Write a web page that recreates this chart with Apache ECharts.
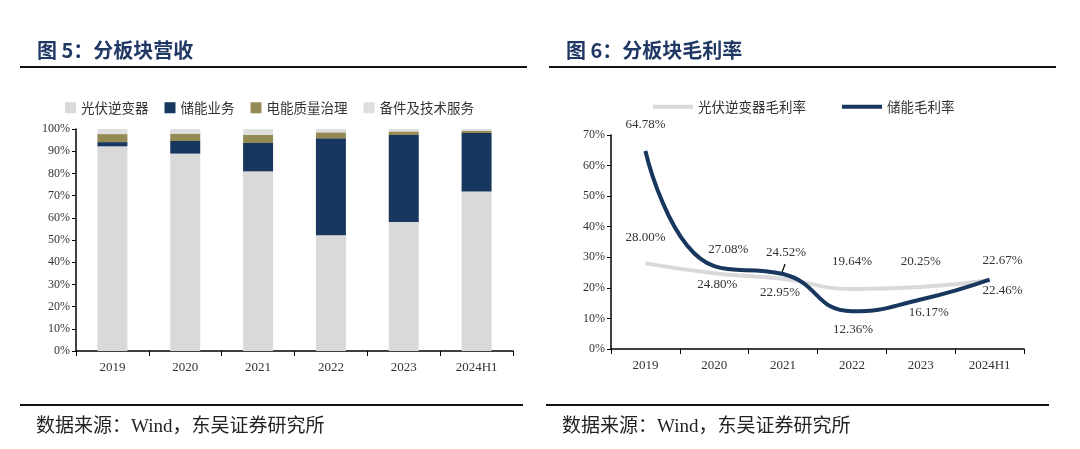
<!DOCTYPE html>
<html><head><meta charset="utf-8">
<script src="https://cdn.jsdelivr.net/npm/echarts@6/dist/echarts.min.js"></script>
<style>html,body{margin:0;padding:0;background:#fff}#c{width:1080px;height:449px}</style>
</head><body><div id="c"></div>
<script>
const categories = ['2019','2020','2021','2022','2023','2024H1'];
const pvShare = [92.2, 88.9, 80.9, 52.1, 58.1, 71.8];
const storageShare = [1.9, 5.7, 12.8, 43.7, 39.2, 26.4];
const powerQualityShare = [3.6, 3.3, 3.6, 2.7, 1.6, 1.0];
const spareShare = [2.3, 2.1, 2.7, 1.5, 1.1, 0.8];
const pvMargin = [28.00, 24.80, 22.95, 19.64, 20.25, 22.46];
const storageMargin = [64.78, 27.08, 24.52, 12.36, 16.17, 22.67];
const leftTicks = [0,10,20,30,40,50,60,70,80,90,100];
const rightTicks = [0,10,20,30,40,50,60,70];

const FONT = '"Liberation Serif","Noto Sans CJK SC",serif';
const CJK = '"Noto Sans CJK SC",sans-serif';
const navy = '#17375e';

// label offsets (dx, dy) relative to point
const pvLblOff = [[0,-26],[3,11],[-3,14],[0,-27],[0,-26],[13,10]];
const stLblOff = [[0,-26],[14,-17],[3,-21],[1,18],[8,13],[13,-19]];

function lblData(vals, offs){
  return vals.map((v,i)=>({value:v, label:{offset:[offs[i][0], offs[i][1]], position:'inside'}}));
}

const chart = echarts.init(document.getElementById('c'));
const axisLabelStyle = {color:'#333', fontFamily:FONT, fontSize:13};
const lineLabel = {show:true, formatter:p=>p.value.toFixed(2)+'%', fontFamily:FONT, fontSize:13, color:'#333'};
const frameLines = [
  {type:'line', shape:{x1:20,y1:67,x2:527,y2:67}, style:{stroke:'#111', lineWidth:2}},
  {type:'line', shape:{x1:549,y1:67,x2:1056,y2:67}, style:{stroke:'#111', lineWidth:2}},
  {type:'line', shape:{x1:20,y1:405,x2:523,y2:405}, style:{stroke:'#111', lineWidth:2}},
  {type:'line', shape:{x1:546,y1:405,x2:1049,y2:405}, style:{stroke:'#111', lineWidth:2}}
];
chart.setOption({
  animation:false,
  title:[
    {text:'图 5：分板块营收', left:32, top:35, textStyle:{fontFamily:CJK, fontWeight:'bold', fontSize:20, color:'#1f3864'}},
    {text:'图 6：分板块毛利率', left:561, top:35, textStyle:{fontFamily:CJK, fontWeight:'bold', fontSize:20, color:'#1f3864'}},
    {text:'数据来源：Wind，东吴证券研究所', left:31, top:413, textStyle:{fontFamily:FONT, fontWeight:'normal', fontSize:19, color:'#222'}},
    {text:'数据来源：Wind，东吴证券研究所', left:557, top:413, textStyle:{fontFamily:FONT, fontWeight:'normal', fontSize:19, color:'#222'}}
  ],
  graphic:frameLines,
  legend:[
    {left:60, top:96, itemWidth:11, itemHeight:11, itemGap:16, icon:'rect',
     textStyle:{fontFamily:CJK, fontSize:13.5, color:'#333'},
     data:['光伏逆变器','储能业务','电能质量治理','备件及技术服务']},
    {left:648, top:95, itemWidth:40, itemHeight:4, itemGap:36, icon:'rect',
     textStyle:{fontFamily:CJK, fontSize:13.5, color:'#333'},
     data:['光伏逆变器毛利率','储能毛利率']}
  ],
  grid:[
    {left:76, right:567, top:129, bottom:98},
    {left:611, right:56, top:135, bottom:100}
  ],
  xAxis:[
    {type:'category', gridIndex:0, data:categories, axisLine:{lineStyle:{color:'#000', width:1.5}},
     axisTick:{show:true, length:5, lineStyle:{color:'#000'}}, axisLabel:Object.assign({margin:10}, axisLabelStyle)},
    {type:'category', gridIndex:1, data:categories, axisLine:{lineStyle:{color:'#000', width:1.5}},
     axisTick:{show:true, length:5, lineStyle:{color:'#000'}}, axisLabel:Object.assign({margin:10}, axisLabelStyle)}
  ],
  yAxis:[
    {type:'value', gridIndex:0, min:leftTicks[0], max:leftTicks[leftTicks.length-1], interval:10,
     axisLine:{show:true, lineStyle:{color:'#000', width:1.5}}, axisTick:{show:true, length:4, lineStyle:{color:'#000'}},
     splitLine:{show:false}, axisLabel:Object.assign({formatter:'{value}%', margin:6}, axisLabelStyle, {fontSize:12})},
    {type:'value', gridIndex:1, min:rightTicks[0], max:rightTicks[rightTicks.length-1], interval:10,
     axisLine:{show:true, lineStyle:{color:'#000', width:1.5}}, axisTick:{show:true, length:4, lineStyle:{color:'#000'}},
     splitLine:{show:false}, axisLabel:Object.assign({formatter:'{value}%', margin:6}, axisLabelStyle, {fontSize:12})}
  ],
  series:[
    {name:'光伏逆变器', type:'bar', stack:'a', xAxisIndex:0, yAxisIndex:0, data:pvShare, barWidth:30, itemStyle:{color:'#d9d9d9'}},
    {name:'储能业务', type:'bar', stack:'a', xAxisIndex:0, yAxisIndex:0, data:storageShare, barWidth:30, itemStyle:{color:navy}},
    {name:'电能质量治理', type:'bar', stack:'a', xAxisIndex:0, yAxisIndex:0, data:powerQualityShare, barWidth:30, itemStyle:{color:'#948a54'}},
    {name:'备件及技术服务', type:'bar', stack:'a', xAxisIndex:0, yAxisIndex:0, data:spareShare, barWidth:30, itemStyle:{color:'#dedede'}},
    {name:'光伏逆变器毛利率', type:'line', xAxisIndex:1, yAxisIndex:1, smooth:0.5, symbol:'circle', symbolSize:0.5, showSymbol:true,
     lineStyle:{color:'#d9d9d9', width:4}, itemStyle:{color:'#d9d9d9'},
     label:lineLabel, data:lblData(pvMargin, pvLblOff), z:2},
    {name:'储能毛利率', type:'line', xAxisIndex:1, yAxisIndex:1, smooth:0.5, symbol:'circle', symbolSize:0.5, showSymbol:true,
     lineStyle:{color:navy, width:4}, itemStyle:{color:navy},
     label:lineLabel, data:lblData(storageMargin, stLblOff), z:3}
  ]
});
// leader line for the 2021 storage label, placed through the axis scale
const p = chart.convertToPixel({gridIndex:1}, [categories[2], storageMargin[2]]);
chart.setOption({graphic:frameLines.concat([{type:'line', shape:{x1:p[0]-1,y1:p[1]-2,x2:p[0]+2,y2:p[1]-10}, style:{stroke:'#000', lineWidth:1.2}, z:10}])});
</script></body></html>
